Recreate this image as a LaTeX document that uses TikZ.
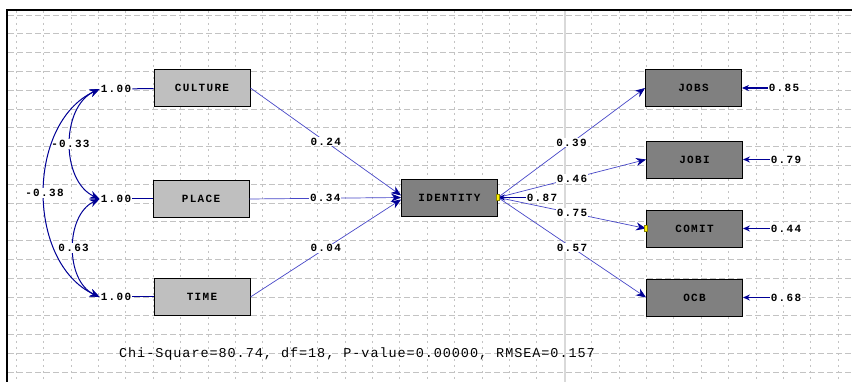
\documentclass[tikz,border=0pt]{standalone}
\usepackage{fontspec}
\usetikzlibrary{arrows.meta}
\newfontfamily\lisfont[LetterSpace=12]{Liberation Mono}
\newfontfamily\fitfont[LetterSpace=7]{Liberation Mono}
\definecolor{pathblue}{RGB}{72,72,200}
\definecolor{tipblue}{RGB}{0,0,150}
\definecolor{gridgray}{RGB}{195,195,195}

\begin{document}
\begin{tikzpicture}[x=1pt,y=-1pt,
        exo/.style={draw=black,line width=0.9pt,fill=gray!50,minimum width=96pt,
            minimum height=37pt,inner sep=0pt,font=\lisfont\bfseries\fontsize{11}{11}\selectfont},
        endo/.style={exo,fill=gray},
        coef/.style={fill=white,text=black,inner sep=1pt,font=\lisfont\bfseries\fontsize{11}{11}\selectfont},
        struct/.style={pathblue,line width=0.7pt,-{Stealth[length=10pt,width=8pt,color=tipblue]}},
        cov/.style={tipblue,line width=1pt,{Stealth[length=10pt,width=8pt]}-{Stealth[length=10pt,width=8pt]}},
        err/.style={tipblue,line width=1.3pt,-{Stealth[length=7pt,width=6pt]}},
        varline/.style={tipblue,line width=1pt},
        selmark/.style={fill=yellow,draw=olive,line width=0.3pt,minimum width=3pt,minimum height=6pt,inner sep=0pt},
        hgrid/.style={gridgray,line width=0.6pt,dash pattern=on 6pt off 3pt},
        vgrid/.style={gridgray,line width=0.6pt,dash pattern=on 2pt off 4pt}]
\useasboundingbox[fill=white] (0,0) rectangle (852,382);

% grid and frame
\foreach \k in {0,...,19}
    \draw[hgrid] (8,{15+18.8*\k}) -- (852,{15+18.8*\k});
\foreach \k in {0,...,30}
    \draw[vgrid] ({16+27.4*\k},11) -- ({16+27.4*\k},382);
\draw[gray!30,line width=1.5pt] (565,11) -- (565,382);
\draw[line width=2pt] (852,10) -- (7,10) -- (7,382);

% variables
\node[exo] (culture) at (202,88) {CULTURE};
\node[exo] (place) at (201,199) {PLACE};
\node[exo] (time) at (202,297) {TIME};
\node[endo] (identity) at (449.5,197.5) {IDENTITY};
\node[endo] (jobs) at (693.5,88) {JOBS};
\node[endo] (jobi) at (694.5,159.5) {JOBI};
\node[endo] (comit) at (694.5,228.5) {COMIT};
\node[endo] (ocb) at (694.5,297.5) {OCB};

% variances of the exogenous variables
\node[coef] (vcult) at (116,89) {1.00};
\node[coef] (vplace) at (116,199) {1.00};
\node[coef] (vtime) at (116,297) {1.00};
\draw[varline] (vcult) -- (culture);
\draw[varline] (vplace) -- (place);
\draw[varline] (vtime) -- (time);

\draw[cov] (vcult.west) to[bend right=65] node[coef] {-0.33} (vplace.west);
\draw[cov] (vplace.west) to[bend right=65] node[coef] {0.63} (vtime.west);
\draw[cov] (vcult.west) to[bend right=65] node[coef] {-0.38} (vtime.west);

% structural paths
\draw[struct] (culture.east) -- node[coef] {0.24} ([yshift=2pt]identity.west);
\draw[struct] (place.east) -- node[coef] {0.34} (identity.west);
\draw[struct] (time.east) -- node[coef] {0.04} ([yshift=-2pt]identity.west);

\draw[struct] (identity.east) -- node[coef] {0.39} (jobs.west);
\draw[struct] (identity.east) -- node[coef] {0.46} (jobi.west);
\draw[struct] (identity.east) -- node[coef] {0.75} (comit.west);
\draw[struct] (identity.east) -- node[coef] {0.57} (ocb.west);

% error variances
\node[coef] (eident) at (542,197.5) {0.87};
\node[coef] (ejobs) at (784,88) {0.85};
\node[coef] (ejobi) at (786,159.5) {0.79};
\node[coef] (ecomit) at (786,228.5) {0.44};
\node[coef] (eocb) at (786,297.5) {0.68};
\draw[err] (eident) -- (identity.east);
\draw[err] (ejobs) -- (jobs);
\draw[err] (ejobi) -- (jobi);
\draw[err] (ecomit) -- (comit);
\draw[err] (eocb) -- (ocb);

\node[selmark] (selident) at (identity.east) {};
\node[selmark] (selcomit) at (comit.west) {};

\node (fit) at (357,354) {\fitfont\fontsize{13.5}{13.5}\selectfont Chi-Square=80.74, df=18, P-value=0.00000, RMSEA=0.157};
\end{tikzpicture}
\end{document}
